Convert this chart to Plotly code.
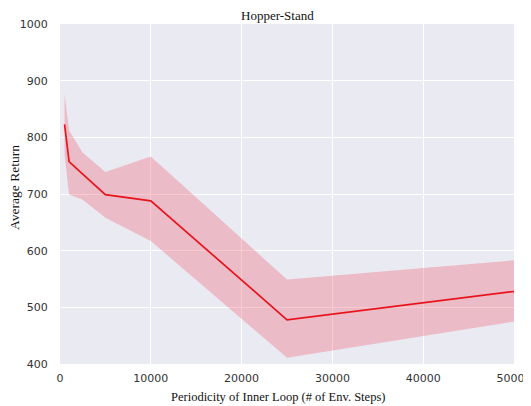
import plotly.graph_objects as go

steps = [500, 1000, 2500, 5000, 10000, 25000, 50000]
mean_return = [823, 757, 735, 699, 688, 478, 528]
upper_return = [877, 812, 773, 739, 766, 549, 583]
lower_return = [770, 699, 690, 658, 617, 411, 475]

x_ticks = [0, 10000, 20000, 30000, 40000, 50000]
y_ticks = [400, 500, 600, 700, 800, 900, 1000]

fig = go.Figure()
fig.add_trace(go.Scatter(x=steps, y=upper_return, mode="lines",
                         line=dict(width=0, color="rgba(255,0,0,0)"),
                         showlegend=False, hoverinfo="skip"))
fig.add_trace(go.Scatter(x=steps, y=lower_return, mode="lines",
                         line=dict(width=0, color="rgba(255,0,0,0)"),
                         fill="tonexty", fillcolor="rgba(240,80,100,0.3)",
                         showlegend=False, hoverinfo="skip"))
fig.add_trace(go.Scatter(x=steps, y=mean_return, mode="lines",
                         line=dict(color="#e8141c", width=1.7),
                         showlegend=False))

tick_font = dict(family="DejaVu Sans", size=11, color="#333333")
serif = dict(family="Liberation Serif", size=13, color="#111111")
fig.update_layout(
    width=523, height=398,
    margin=dict(l=52, r=17, t=16, b=42),
    paper_bgcolor="white", plot_bgcolor="#EAEAF2",
    xaxis=dict(range=[0, 50000], tickvals=x_ticks, ticktext=[str(v) for v in x_ticks],
               showgrid=True, gridcolor="white", gridwidth=1, zeroline=False,
               ticks="outside", ticklen=4, tickcolor="rgba(0,0,0,0)",
               tickfont=tick_font, showline=False, automargin=False,
               ticklabeloverflow="allow"),
    yaxis=dict(range=[400, 1000], tickvals=y_ticks, ticktext=[str(v) for v in y_ticks],
               showgrid=True, gridcolor="white", gridwidth=1, zeroline=False,
               ticks="outside", ticklen=9, tickcolor="rgba(0,0,0,0)",
               tickfont=tick_font, showline=False, automargin=False,
               ticklabeloverflow="allow"),
    annotations=[
        dict(text="Hopper-Stand", xref="paper", yref="paper", x=0.479, y=1,
             xanchor="center", yanchor="middle", yshift=9, showarrow=False, font=serif),
        dict(text="Periodicity of Inner Loop (# of Env. Steps)", xref="paper", yref="paper",
             x=0.480, y=0, xanchor="center", yanchor="middle", yshift=-33, showarrow=False,
             font=dict(family="Liberation Serif", size=12.5, color="#111111")),
        dict(text="Average Return", xref="paper", yref="paper", x=0, y=0.518,
             xanchor="center", yanchor="middle", xshift=-45, textangle=-90, showarrow=False,
             font=dict(family="Liberation Serif", size=13.5, color="#111111")),
    ],
)
fig.write_html("out.html")
